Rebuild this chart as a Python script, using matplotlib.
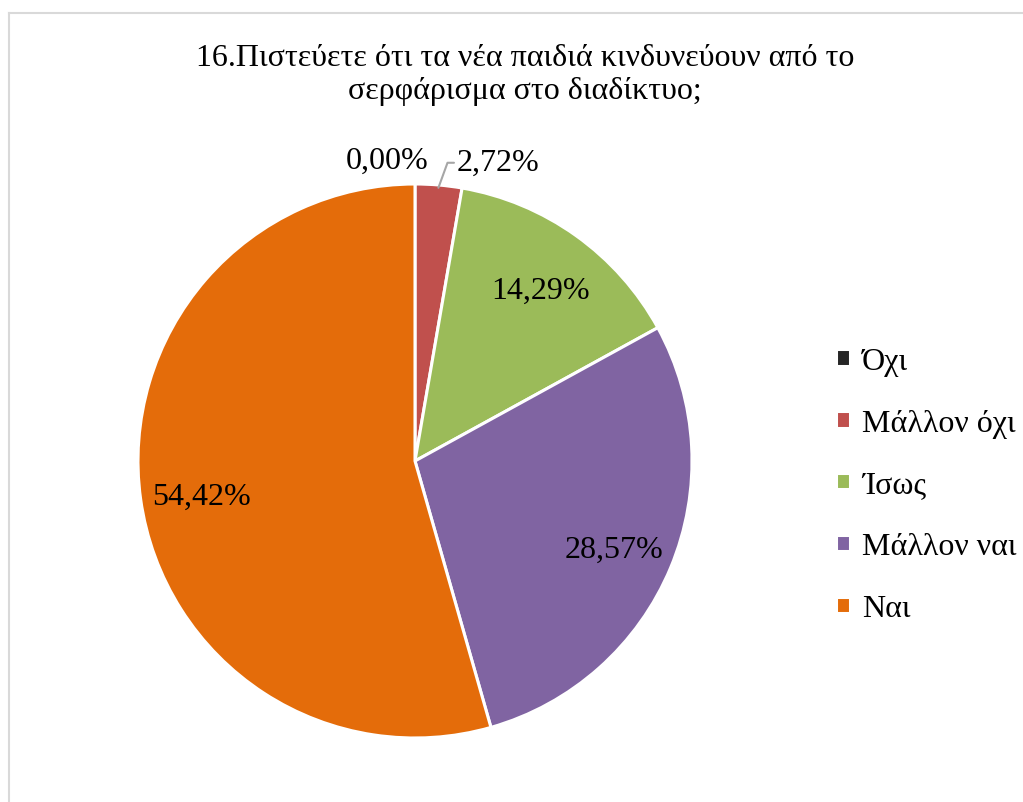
import numpy as np
import matplotlib
matplotlib.use("Agg")
import matplotlib.pyplot as plt
from matplotlib.lines import Line2D

plt.rcParams['font.family'] = ['Liberation Serif', 'DejaVu Serif']

categories = ["Όχι", "Μάλλον όχι", "Ίσως", "Μάλλον ναι", "Ναι"]
values = [0.00, 2.72, 14.29, 28.57, 54.42]
colors = ["#262626", "#C0504D", "#9BBB59", "#8064A2", "#E46C0A"]
title = "16.Πιστεύετε ότι τα νέα παιδιά κινδυνεύουν από το\nσερφάρισμα στο διαδίκτυο;"

W, H = 1023, 803
fig = plt.figure(figsize=(W / 100, H / 100), dpi=100)

# chart area frame (left and top edges visible)
fig.add_artist(Line2D([9 / W, 9 / W], [0, 1 - 14 / H], color="#d9d9d9", lw=1.5))
fig.add_artist(Line2D([9 / W, 1], [1 - 14 / H, 1 - 14 / H], color="#d9d9d9", lw=1.5))

cx, cy, R = 415, 462, 277
ax = fig.add_axes([(cx - R) / W, 1 - (cy + R) / H, 2 * R / W, 2 * R / H])

wedges, _ = ax.pie(values, colors=colors, startangle=90, counterclock=False,
                   wedgeprops=dict(edgecolor="white", linewidth=2.2))
ax.set_xlim(-1, 1)
ax.set_ylim(-1, 1)
ax.set_aspect("equal")
ax.axis("off")

fs = 23

# percentage labels
for w, v in zip(wedges, values):
    mid = np.deg2rad((w.theta1 + w.theta2) / 2)
    txt = f"{v:.2f}%".replace(".", ",")
    if v >= 5:
        d = 0.78
        ax.text(d * np.cos(mid), d * np.sin(mid) - 0.02, txt, ha="center", va="center", fontsize=fs)
    elif v == 0:
        ax.annotate(txt, xy=(np.cos(mid), np.sin(mid)), xytext=(-20, 17),
                    textcoords="offset points", ha="center", va="center", fontsize=fs)
    else:
        ax.annotate(txt, xy=(np.cos(mid) * 0.99, np.sin(mid) * 0.99), xytext=(43, 18),
                    textcoords="offset points", ha="center", va="center", fontsize=fs,
                    arrowprops=dict(arrowstyle="-", color="#a6a6a6", lw=1.5,
                                    shrinkA=31, shrinkB=0,
                                    connectionstyle="angle,angleA=0,angleB=70,rad=0"))

fig.text(0.513, 1 - 75 / H, title, ha="center", va="center", fontsize=fs, linespacing=1.22)

fig.legend(wedges, categories, loc="center left", bbox_to_anchor=(823 / W, 1 - 486 / H),
           frameon=False, fontsize=fs, handlelength=0.43, handleheight=0.43,
           handletextpad=0.4, labelspacing=1.03, borderaxespad=0)

fig.savefig("out.png", dpi=100)
